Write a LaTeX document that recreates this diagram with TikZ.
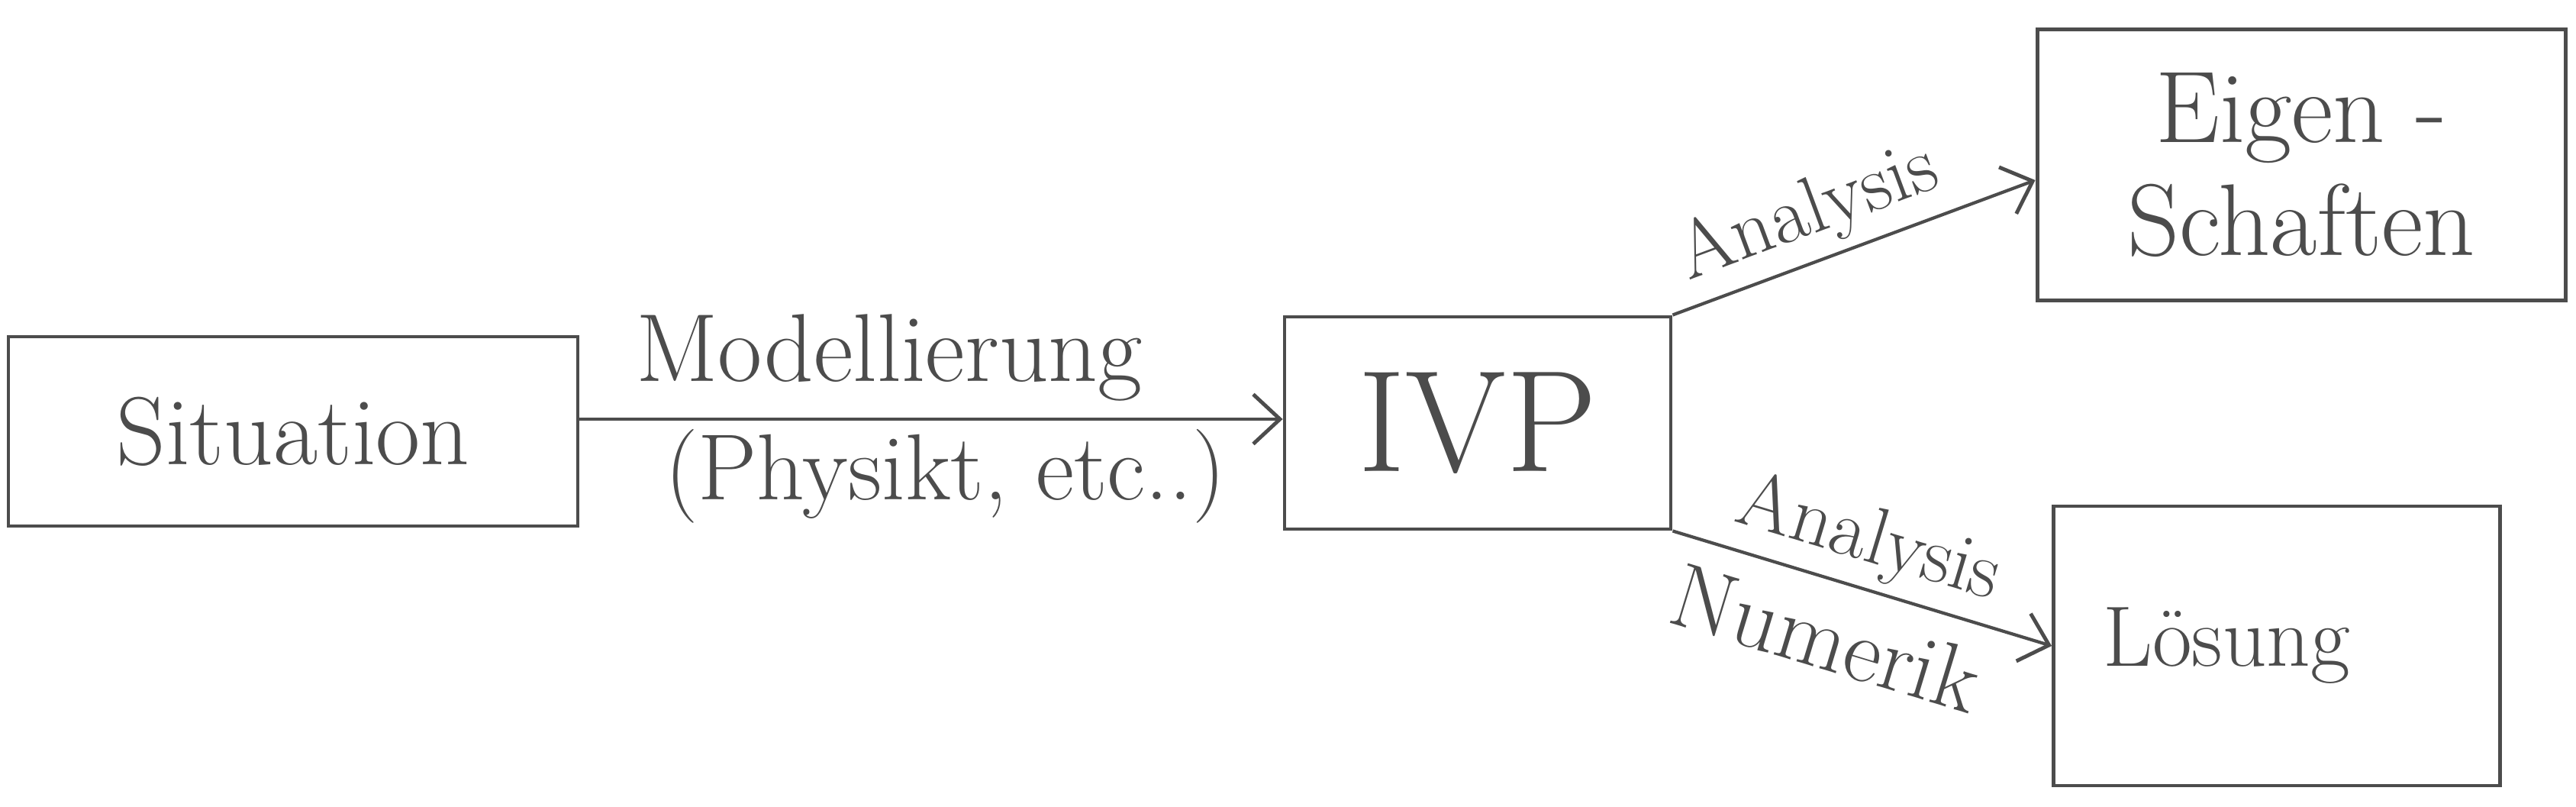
\documentclass[tikz,border=0pt]{standalone}
\usepackage{tikz}
\usetikzlibrary{arrows.meta}
\colorlet{pen}{black!70}

\begin{document}
\begin{tikzpicture}[
        box/.style={draw=pen, line width=1.4pt, inner sep=0pt, text=pen},
        arr/.style={draw=pen, line width=1.2pt, -{Straight Barb[length=3.5mm, width=6.5mm, line width=1.4pt]}},
        lbl/.style={font=\fontsize{30}{36}\selectfont, text=pen}
    ]
        \useasboundingbox (0,0) rectangle (33.75,10.56);
        \node[box, minimum width=7.46cm, minimum height=2.48cm, font=\fontsize{36}{42}\selectfont] (sit) at (3.84,4.91) {Situation};
        \node[box, minimum width=5.06cm, minimum height=2.78cm, font=\fontsize{54}{60}\selectfont] (ivp) at (19.36,5.02) {IVP};
        \node[box, minimum width=6.92cm, minimum height=3.55cm, align=center, font=\fontsize{38}{42}\selectfont] (eig) at (30.15,8.40) {Eigen -\\Schaften};
        \node[box, minimum width=5.85cm, minimum height=3.66cm, inner xsep=0.65cm, text width=4.55cm, align=left, font=\fontsize{32}{38}\selectfont] (ls) at (29.83,2.10) {Lösung};
        \coordinate (m1) at ([yshift=1.6mm]sit.east);
        \draw[arr] (m1) -- (m1 -| ivp.west)
            node[lbl, font=\fontsize{36}{40}\selectfont, pos=0.44, above=1mm] (mod) {Modellierung}
            node[lbl, font=\fontsize{35}{40}\selectfont, pos=0.52, below] (phy) {(Physikt, etc..)};
        \draw[arr] (ivp.north east) -- ([yshift=-2mm]eig.west)
            node[lbl, sloped, above, pos=0.42] (an1) {Analysis};
        \draw[arr] (ivp.south east) -- (ls.west)
            node[lbl, sloped, above, pos=0.48] (an2) {Analysis}
            node[lbl, font=\fontsize{34}{40}\selectfont, sloped, below=2mm, pos=0.45] (num) {Numerik};
    \end{tikzpicture}
\end{document}
